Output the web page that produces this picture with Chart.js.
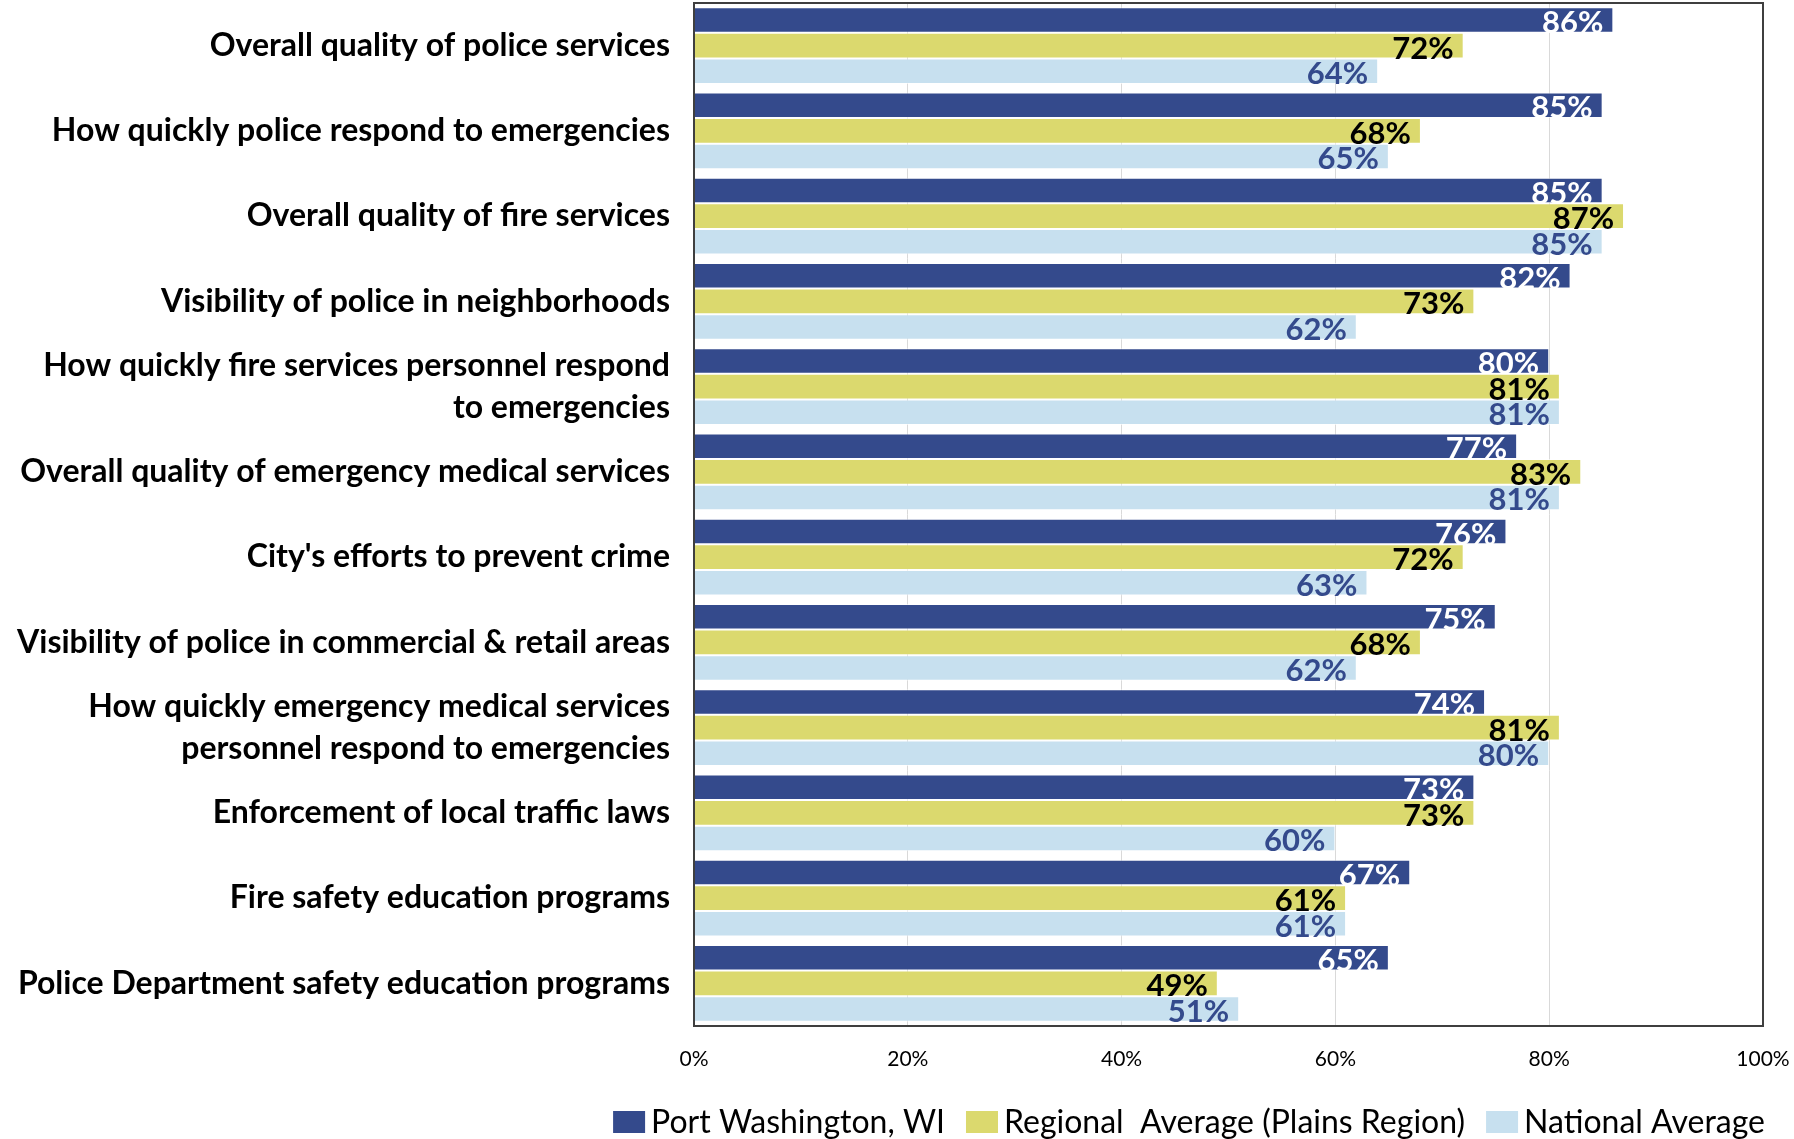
<!DOCTYPE html>
<html>
<head>
<meta charset="utf-8">
<script src="https://cdn.jsdelivr.net/npm/chart.js@4"></script>
<style>
    html, body { margin: 0; padding: 0; background: #fff; }
    #wrap { width: 1794px; height: 1139px; }
</style>
</head>
<body>
<div id="wrap"><canvas id="safetyChart" width="1794" height="1139"></canvas></div>
<script>
// Kategori layanan keselamatan publik
const categories = [
    'Overall quality of police services',
    'How quickly police respond to emergencies',
    'Overall quality of fire services',
    'Visibility of police in neighborhoods',
    ['How quickly fire services personnel respond', 'to emergencies'],
    'Overall quality of emergency medical services',
    "City's efforts to prevent crime",
    'Visibility of police in commercial & retail areas',
    ['How quickly emergency medical services', 'personnel respond to emergencies'],
    'Enforcement of local traffic laws',
    'Fire safety education programs',
    'Police Department safety education programs',
];

const seriesNames = ['Port Washington, WI', 'Regional  Average (Plains Region)', 'National Average'];

// Persentase penilaian positif (%)
const portWashington = [86, 85, 85, 82, 80, 77, 76, 75, 74, 73, 67, 65];
const regionalAverage = [72, 68, 87, 73, 81, 83, 72, 68, 81, 73, 61, 49];
const nationalAverage = [64, 65, 85, 62, 81, 81, 63, 62, 80, 60, 61, 51];

const xTicks = [0, 20, 40, 60, 80, 100];

const barColors = ['#344a8c', '#dbd96e', '#c7e0ef'];
const labelColors = ['#ffffff', '#000000', '#344a8c'];

const FONT = 'Lato, "Open Sans", sans-serif';

// Label nilai di ujung dalam batang
const valueLabels = {
    id: 'valueLabels',
    afterDatasetsDraw(chart) {
        const ctx = chart.ctx;
        ctx.save();
        ctx.font = 'bold 31px ' + FONT;
        ctx.textAlign = 'right';
        ctx.textBaseline = 'middle';
        chart.data.datasets.forEach((ds, i) => {
            const meta = chart.getDatasetMeta(i);
            ctx.fillStyle = labelColors[i];
            meta.data.forEach((bar, j) => {
                ctx.fillText(ds.data[j] + '%', bar.x - 10, bar.y + 3);
            });
        });
        ctx.restore();
    }
};

// Bingkai area plot
const plotFrame = {
    id: 'plotFrame',
    afterDraw(chart) {
        const a = chart.chartArea;
        const ctx = chart.ctx;
        ctx.save();
        ctx.strokeStyle = '#3f3f3f';
        ctx.lineWidth = 2;
        ctx.strokeRect(a.left, a.top, a.right - a.left, a.bottom - a.top);
        ctx.restore();
    }
};

// Legenda di bawah, rata kanan
const bottomLegend = {
    id: 'bottomLegend',
    afterDraw(chart) {
        const ctx = chart.ctx;
        const boxW = 32, boxH = 22, gapText = 6, gapItem = 21;
        const right = 1765, midY = 1122;
        ctx.save();
        ctx.font = '32px ' + FONT;
        ctx.textBaseline = 'middle';
        ctx.textAlign = 'left';
        const items = chart.data.datasets.map(ds => ({
            text: ds.label,
            color: ds.backgroundColor,
            width: ctx.measureText(ds.label).width
        }));
        let total = items.reduce((s, it) => s + boxW + gapText + it.width, 0) + gapItem * (items.length - 1);
        let x = right - total;
        items.forEach(it => {
            ctx.fillStyle = it.color;
            ctx.fillRect(x, midY - boxH / 2, boxW, boxH);
            x += boxW + gapText;
            ctx.fillStyle = '#000';
            ctx.fillText(it.text, x, midY + 1);
            x += it.width + gapItem;
        });
        ctx.restore();
    }
};

new Chart(document.getElementById('safetyChart'), {
    type: 'bar',
    data: {
        labels: categories,
        datasets: [portWashington, regionalAverage, nationalAverage].map((values, i) => ({
            label: seriesNames[i],
            data: values,
            backgroundColor: barColors[i],
            borderColor: 'rgba(255,255,255,0.6)',
            borderWidth: 1,
            categoryPercentage: 0.9,
            barPercentage: 1.0,
        })),
    },
    plugins: [valueLabels, plotFrame, bottomLegend],
    options: {
        indexAxis: 'y',
        responsive: false,
        animation: false,
        layout: {
            autoPadding: false,
            padding: { top: 3, right: 31, left: 0, bottom: 57 }
        },
        plugins: {
            legend: { display: false },
            tooltip: { enabled: false }
        },
        scales: {
            x: {
                min: 0,
                max: 100,
                afterBuildTicks(scale) {
                    scale.ticks = xTicks.map(v => ({ value: v }));
                },
                afterFit(scale) {
                    scale.height = 56;
                    scale.paddingLeft = 0;
                    scale.paddingRight = 0;
                },
                grid: { color: '#d9d9d9', lineWidth: 1, drawTicks: false },
                border: { display: false },
                ticks: {
                    padding: 21,
                    color: '#000',
                    font: { family: FONT, size: 21 },
                    callback: v => v + '%'
                }
            },
            y: {
                afterFit(scale) {
                    scale.width = 694;
                    scale.paddingTop = 0;
                    scale.paddingBottom = 0;
                },
                grid: { display: false, drawTicks: false },
                border: { display: false },
                ticks: {
                    autoSkip: false,
                    padding: 24,
                    color: '#000',
                    font: { family: FONT, size: 32, weight: 'bold', lineHeight: 1.3 },
                }
            }
        }
    }
});
</script>
</body>
</html>
